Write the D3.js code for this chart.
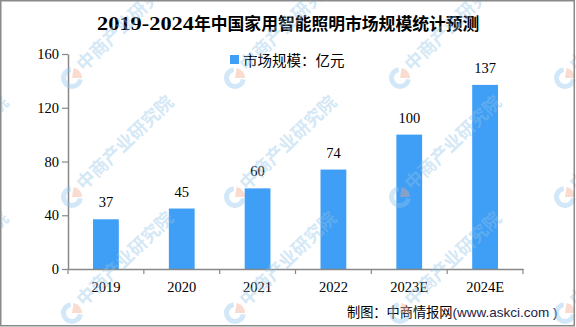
<!DOCTYPE html>
<html>
<head>
<meta charset="utf-8">
<script src="https://cdn.jsdelivr.net/npm/d3@7"></script>
<style>
  html, body { margin: 0; padding: 0; background: #fff; }
  svg { display: block; }
</style>
</head>
<body>
<svg id="chart" width="576" height="327"></svg>
<script>
// Home smart lighting market size (100 million yuan)
const categories = ["2019", "2020", "2021", "2022", "2023E", "2024E"];
const marketSize = [37, 45, 60, 74, 100, 137];
const yTicks = [0, 40, 80, 120, 160];
const titleYears = "2019-2024";
const titleRest = "年中国家用智能照明市场规模统计预测";
const legendText = "市场规模：亿元";
const sourceLabel = "制图：中商情报网";
const sourceSite = "(www.askci.com )";
const watermarkText = "中商产业研究院";
const watermarkCols = [-93, 72, 235, 400, 565];
const watermarkRows = [78, 197, 313];

const W = 576, H = 327;
const svg = d3.select("#chart");
const serif = "'Liberation Serif', 'Noto Sans CJK SC', serif";
const cjk = "'Noto Sans CJK SC', 'Liberation Sans', sans-serif";
const axisColor = "#888";
const barColor = "#3f9ef5";

svg.append("rect").attr("width", W).attr("height", H).attr("fill", "#fff");

const plot = { left: 68, right: 523, top: 54, bottom: 269 };

const x = d3.scaleBand()
  .domain(categories)
  .range([plot.left, plot.right])
  .paddingInner(0.66)
  .paddingOuter(0.33);

const y = d3.scaleLinear()
  .domain([0, 160])
  .range([plot.bottom, plot.top]);

// Title: wide bold year range followed by the Chinese heading
const title = svg.append("text")
  .attr("x", 97).attr("y", 30)
  .attr("font-weight", "bold")
  .attr("fill", "#000");
title.append("tspan")
  .attr("font-family", serif)
  .attr("font-size", 18)
  .attr("textLength", 97)
  .attr("lengthAdjust", "spacingAndGlyphs")
  .text(titleYears);
title.append("tspan")
  .attr("font-family", cjk)
  .attr("font-size", 16.8)
  .text(titleRest);

// Legend
svg.append("rect")
  .attr("x", 230).attr("y", 55).attr("width", 9).attr("height", 9)
  .attr("fill", barColor);
svg.append("text")
  .attr("x", 243).attr("y", 65.5)
  .attr("font-family", cjk)
  .attr("font-size", 14.5)
  .attr("fill", "#000")
  .text(legendText);

// Bars
svg.append("g").selectAll("rect")
  .data(marketSize)
  .join("rect")
  .attr("x", (d, i) => x(categories[i]))
  .attr("y", d => y(d))
  .attr("width", x.bandwidth())
  .attr("height", d => y(0) - y(d))
  .attr("fill", barColor);

// Value labels
svg.append("g").selectAll("text")
  .data(marketSize)
  .join("text")
  .attr("x", (d, i) => x(categories[i]) + x.bandwidth() / 2)
  .attr("y", d => y(d) - 12)
  .attr("text-anchor", "middle")
  .attr("font-family", serif)
  .attr("font-size", 14.5)
  .attr("fill", "#000")
  .text(d => d);

// Y axis
const yAxis = svg.append("g")
  .attr("transform", `translate(${plot.left},0)`)
  .call(d3.axisLeft(y).tickValues(yTicks).tickSize(6).tickPadding(3).tickSizeOuter(0));
yAxis.select(".domain").attr("stroke", axisColor).attr("stroke-width", 1.5);
yAxis.selectAll(".tick line").attr("stroke", axisColor).attr("stroke-width", 1.2);
yAxis.selectAll(".tick text")
  .attr("font-family", serif).attr("font-size", 14.5).attr("fill", "#000");

// X axis: labels centred on bands, ticks at band boundaries
const xAxis = svg.append("g")
  .attr("transform", `translate(0,${plot.bottom})`)
  .call(d3.axisBottom(x).tickSize(0).tickPadding(13).tickSizeOuter(0));
xAxis.select(".domain").attr("stroke", axisColor).attr("stroke-width", 1.5);
xAxis.selectAll(".tick text")
  .attr("font-family", serif).attr("font-size", 14.5).attr("fill", "#000");
const step = x.step();
const bounds = d3.range(categories.length + 1).map(i => plot.left + i * step);
xAxis.selectAll(".bound")
  .data(bounds)
  .join("line")
  .attr("class", "bound")
  .attr("x1", d => d).attr("x2", d => d)
  .attr("y1", 0).attr("y2", 5)
  .attr("stroke", axisColor).attr("stroke-width", 1.2);

// Source note
const src = svg.append("text")
  .attr("x", 347).attr("y", 317)
  .attr("font-family", cjk)
  .attr("font-size", 13.2)
  .attr("fill", "#000");
src.append("tspan").text(sourceLabel);
src.append("tspan")
  .attr("font-family", "'Liberation Sans', sans-serif")
  .attr("font-size", 13.5)
  .attr("fill", "#22224a")
  .text(sourceSite);

// Watermark tiles
const wm = svg.append("g").attr("pointer-events", "none");
watermarkRows.forEach(ry => {
  watermarkCols.forEach(cx => {
    const g = wm.append("g").attr("transform", `translate(${cx},${ry})`);
    const arc = d3.arc();
    g.append("path")
      .attr("d", arc({ innerRadius: 6, outerRadius: 11, startAngle: Math.PI * 0.55, endAngle: Math.PI * 1.95 }))
      .attr("fill", "#8fc3ea").attr("opacity", 0.4);
    g.append("path")
      .attr("d", arc({ innerRadius: 0, outerRadius: 10, startAngle: Math.PI * 0.05, endAngle: Math.PI * 0.5 }))
      .attr("fill", "#f2a58a").attr("opacity", 0.4);
    g.append("text")
      .attr("transform", "translate(12,-6) rotate(-44)")
      .attr("font-family", cjk)
      .attr("font-weight", "bold")
      .attr("font-size", 18)
      .attr("fill", "#8fc3ea")
      .attr("opacity", 0.38)
      .text(watermarkText);
  });
});

// Outer frame
svg.append("rect")
  .attr("x", 0.75).attr("y", 0.75)
  .attr("width", W - 2.5).attr("height", H - 2)
  .attr("fill", "none")
  .attr("stroke", "#8a8a8a")
  .attr("stroke-width", 1.5);
</script>
</body>
</html>
